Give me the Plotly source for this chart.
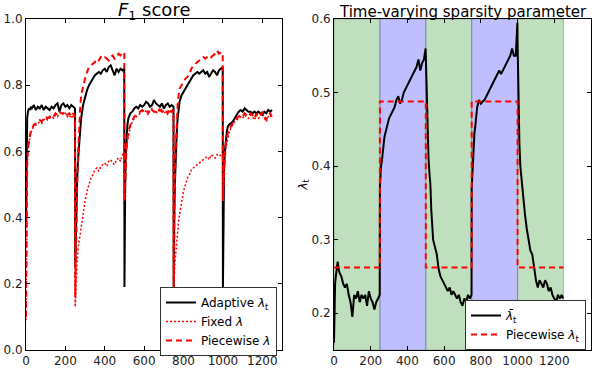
import plotly.graph_objects as go

# ---------------- data ----------------
SEG_STARTS = [0, 250, 500, 750, 1000]
OFFSETS = [0, 3, 6, 10, 15, 20, 25, 30, 40, 50, 60, 70, 80, 90, 100, 110, 120,
           130, 140, 150, 160, 170, 180, 190, 200, 210, 220, 230, 240, 249]
T = [s + o for s in SEG_STARTS for o in OFFSETS]

ADAPTIVE = [
    0.38, 0.62, 0.70, 0.72, 0.73, 0.725, 0.735, 0.73, 0.74, 0.725, 0.735, 0.73, 0.74, 0.725, 0.735,
    0.73, 0.725, 0.735, 0.73, 0.74, 0.745, 0.72, 0.74, 0.745, 0.735, 0.74, 0.73, 0.74, 0.735, 0.73,
    0.25, 0.36, 0.45, 0.52, 0.58, 0.63, 0.67, 0.70, 0.74, 0.765, 0.785, 0.80, 0.81, 0.82, 0.83,
    0.835, 0.84, 0.835, 0.845, 0.85, 0.84, 0.855, 0.86, 0.845, 0.83, 0.85, 0.84, 0.85, 0.845, 0.85,
    0.19, 0.45, 0.58, 0.64, 0.68, 0.70, 0.71, 0.715, 0.72, 0.73, 0.735, 0.73, 0.74, 0.735, 0.74,
    0.75, 0.745, 0.735, 0.74, 0.755, 0.745, 0.74, 0.735, 0.745, 0.73, 0.74, 0.745, 0.735, 0.74, 0.735,
    0.19, 0.40, 0.50, 0.58, 0.65, 0.70, 0.73, 0.75, 0.77, 0.78, 0.79, 0.80, 0.81, 0.82, 0.83,
    0.835, 0.84, 0.835, 0.84, 0.845, 0.835, 0.84, 0.825, 0.835, 0.845, 0.84, 0.83, 0.845, 0.85, 0.855,
    0.19, 0.45, 0.55, 0.60, 0.64, 0.66, 0.675, 0.68, 0.685, 0.69, 0.70, 0.71, 0.72, 0.725, 0.72,
    0.73, 0.725, 0.72, 0.72, 0.715, 0.72, 0.715, 0.72, 0.715, 0.71, 0.72, 0.715, 0.725, 0.72, 0.725,
]

FIXED = [
    0.09, 0.45, 0.55, 0.60, 0.63, 0.645, 0.655, 0.665, 0.675, 0.68, 0.685, 0.69, 0.685, 0.695, 0.70,
    0.695, 0.70, 0.705, 0.70, 0.71, 0.705, 0.715, 0.72, 0.71, 0.715, 0.705, 0.71, 0.70, 0.71, 0.70,
    0.13, 0.18, 0.23, 0.27, 0.31, 0.33, 0.35, 0.38, 0.42, 0.45, 0.48, 0.50, 0.52, 0.53, 0.545,
    0.55, 0.54, 0.555, 0.56, 0.565, 0.555, 0.57, 0.575, 0.565, 0.56, 0.575, 0.58, 0.57, 0.59, 0.60,
    0.45, 0.50, 0.55, 0.60, 0.63, 0.65, 0.665, 0.675, 0.69, 0.70, 0.705, 0.71, 0.715, 0.72, 0.725,
    0.72, 0.71, 0.725, 0.73, 0.72, 0.715, 0.725, 0.72, 0.73, 0.715, 0.72, 0.71, 0.725, 0.715, 0.72,
    0.20, 0.22, 0.26, 0.29, 0.33, 0.36, 0.39, 0.41, 0.45, 0.48, 0.50, 0.52, 0.53, 0.545, 0.55,
    0.555, 0.56, 0.565, 0.57, 0.575, 0.58, 0.585, 0.575, 0.59, 0.585, 0.58, 0.59, 0.585, 0.59, 0.595,
    0.45, 0.50, 0.54, 0.58, 0.61, 0.63, 0.645, 0.655, 0.67, 0.68, 0.69, 0.695, 0.70, 0.705, 0.70,
    0.71, 0.705, 0.70, 0.71, 0.705, 0.695, 0.71, 0.70, 0.705, 0.715, 0.70, 0.69, 0.705, 0.71, 0.70,
]

PIECEWISE = [
    0.10, 0.46, 0.56, 0.61, 0.635, 0.65, 0.66, 0.67, 0.68, 0.685, 0.69, 0.695, 0.69, 0.70, 0.705,
    0.70, 0.705, 0.71, 0.705, 0.715, 0.71, 0.72, 0.715, 0.715, 0.72, 0.71, 0.715, 0.705, 0.715, 0.705,
    0.16, 0.30, 0.42, 0.50, 0.60, 0.68, 0.73, 0.77, 0.80, 0.82, 0.84, 0.855, 0.86, 0.865, 0.87,
    0.88, 0.875, 0.885, 0.88, 0.885, 0.88, 0.875, 0.885, 0.89, 0.88, 0.885, 0.895, 0.89, 0.90, 0.895,
    0.45, 0.52, 0.57, 0.61, 0.64, 0.66, 0.67, 0.68, 0.695, 0.705, 0.71, 0.715, 0.72, 0.725, 0.72,
    0.725, 0.715, 0.73, 0.725, 0.72, 0.72, 0.73, 0.725, 0.72, 0.72, 0.725, 0.715, 0.73, 0.72, 0.725,
    0.19, 0.40, 0.52, 0.60, 0.68, 0.74, 0.77, 0.79, 0.80, 0.81, 0.82, 0.825, 0.835, 0.85, 0.86,
    0.865, 0.87, 0.875, 0.88, 0.885, 0.88, 0.885, 0.89, 0.885, 0.89, 0.895, 0.905, 0.895, 0.90, 0.895,
    0.45, 0.52, 0.56, 0.60, 0.625, 0.645, 0.655, 0.665, 0.675, 0.685, 0.695, 0.70, 0.705, 0.71, 0.705,
    0.715, 0.71, 0.705, 0.715, 0.71, 0.70, 0.715, 0.705, 0.71, 0.72, 0.705, 0.695, 0.71, 0.715, 0.705,
]

LAMBDA_BAR = [
    0.16, 0.22, 0.24, 0.25, 0.26, 0.27, 0.26, 0.255, 0.25, 0.24, 0.235, 0.24, 0.225, 0.215, 0.195,
    0.225, 0.22, 0.23, 0.215, 0.225, 0.22, 0.225, 0.21, 0.23, 0.22, 0.215, 0.205, 0.215, 0.22, 0.225,
    0.37, 0.39, 0.40, 0.405, 0.42, 0.43, 0.44, 0.445, 0.455, 0.465, 0.47, 0.475, 0.48, 0.49, 0.495,
    0.485, 0.49, 0.50, 0.505, 0.51, 0.515, 0.52, 0.525, 0.53, 0.535, 0.545, 0.53, 0.54, 0.545, 0.56,
    0.55, 0.51, 0.47, 0.44, 0.41, 0.39, 0.375, 0.34, 0.30, 0.29, 0.28, 0.26, 0.25, 0.245, 0.24,
    0.235, 0.23, 0.235, 0.225, 0.23, 0.225, 0.22, 0.225, 0.215, 0.21, 0.22, 0.215, 0.225, 0.22, 0.225,
    0.37, 0.39, 0.41, 0.43, 0.445, 0.455, 0.47, 0.48, 0.49, 0.485, 0.488, 0.49, 0.495, 0.50, 0.505,
    0.51, 0.515, 0.52, 0.525, 0.53, 0.525, 0.53, 0.535, 0.54, 0.545, 0.55, 0.56, 0.55, 0.55, 0.595,
    0.57, 0.52, 0.47, 0.43, 0.40, 0.385, 0.375, 0.36, 0.335, 0.315, 0.30, 0.285, 0.28, 0.26, 0.245,
    0.235, 0.245, 0.24, 0.235, 0.245, 0.24, 0.23, 0.235, 0.225, 0.22, 0.215, 0.225, 0.22, 0.225, 0.22,
]

PW_X = [0, 250, 250, 500, 500, 750, 750, 1000, 1000, 1250]
PW_LAMBDA = [0.262, 0.262, 0.488, 0.488, 0.262, 0.262, 0.488, 0.488, 0.262, 0.262]

BAND_EDGES = [0, 250, 500, 750, 1000, 1250]
BAND_KIND = ["g", "b", "g", "b", "g"]

LEFT_XTICKS = [0, 200, 400, 600, 800, 1000, 1200]
LEFT_YTICKS = [0.0, 0.2, 0.4, 0.6, 0.8, 1.0]
RIGHT_XTICKS = [0, 200, 400, 600, 800, 1000, 1200, 1400]
RIGHT_YTICKS = [0.2, 0.3, 0.4, 0.5, 0.6]

# ---------------- layout geometry ----------------
W, H = 599, 368
FONT = "DejaVu Sans"
L_X = [26 / W, 282 / W]
R_X = [334 / W, 591 / W]
Y_DOM = [(H - 350) / H, (H - 19) / H]

fig = go.Figure()

fig.add_trace(go.Scatter(x=T, y=ADAPTIVE, mode="lines", name="Adaptive <i>λ</i><sub>t</sub>",
                         line=dict(color="black", width=2), xaxis="x", yaxis="y", legend="legend"))
fig.add_trace(go.Scatter(x=T, y=FIXED, mode="lines", name="Fixed <i>λ</i>",
                         line=dict(color="red", width=1.5, dash="2px,2px"), xaxis="x", yaxis="y",
                         legend="legend"))
fig.add_trace(go.Scatter(x=T, y=PIECEWISE, mode="lines", name="Piecewise <i>λ</i>",
                         line=dict(color="red", width=2, dash="6px,4px"), xaxis="x", yaxis="y",
                         legend="legend"))

fig.add_trace(go.Scatter(x=T, y=LAMBDA_BAR, mode="lines", name="<i>λ̄</i><sub>t</sub>",
                         line=dict(color="black", width=2), xaxis="x2", yaxis="y2", legend="legend2"))
fig.add_trace(go.Scatter(x=PW_X, y=PW_LAMBDA, mode="lines", name="Piecewise <i>λ</i><sub>t</sub>",
                         line=dict(color="red", width=2, dash="6px,4px"), xaxis="x2", yaxis="y2",
                         legend="legend2"))

colors = {"g": "rgba(0,128,0,0.25)", "b": "rgba(0,0,255,0.25)"}
for i, k in enumerate(BAND_KIND):
    fig.add_shape(type="rect", xref="x2", yref="y2 domain", x0=BAND_EDGES[i], x1=BAND_EDGES[i + 1],
                  y0=0, y1=1, fillcolor=colors[k], line=dict(color="rgba(80,80,80,0.35)", width=1),
                  layer="below")

axis_common = dict(showgrid=False, zeroline=False, showline=True, linecolor="black", linewidth=1,
                   mirror="ticks", ticks="inside", ticklen=4, tickcolor="black", automargin=False,
                   tickfont=dict(family=FONT, size=12, color="#222"))

fig.update_layout(
    width=W, height=H, margin=dict(l=0, r=0, t=0, b=0),
    paper_bgcolor="white", plot_bgcolor="white",
    xaxis=dict(domain=L_X, range=[0, 1300], tickvals=LEFT_XTICKS, anchor="y", **axis_common),
    yaxis=dict(domain=Y_DOM, range=[0, 1.0], tickvals=LEFT_YTICKS, tickformat=".1f", anchor="x",
               **axis_common),
    xaxis2=dict(domain=R_X, range=[0, 1400], tickvals=RIGHT_XTICKS, anchor="y2", **axis_common),
    yaxis2=dict(domain=Y_DOM, range=[0.15, 0.6], tickvals=RIGHT_YTICKS, tickformat=".1f", anchor="x2",
                **axis_common),
    legend=dict(x=277 / W, y=1 - 287 / H, xanchor="right", yanchor="top", bgcolor="white",
                bordercolor="#333", borderwidth=1, font=dict(family=FONT, size=12, color="black"),
                itemwidth=30, tracegroupgap=0),
    legend2=dict(x=586 / W, y=1 - 300 / H, xanchor="right", yanchor="top", bgcolor="white",
                 bordercolor="#333", borderwidth=1, font=dict(family=FONT, size=12, color="black"),
                 itemwidth=30, tracegroupgap=0),
    showlegend=True,
)

fig.add_annotation(text="<i>F</i><sub>1</sub> score", xref="paper", yref="paper",
                   x=(L_X[0] + L_X[1]) / 2, y=Y_DOM[1], xanchor="center", yanchor="bottom",
                   showarrow=False, yshift=-5, borderpad=0,
                   font=dict(family=FONT, size=18, color="black"))
fig.add_annotation(text="Time-varying sparsity parameter", xref="paper", yref="paper",
                   x=(R_X[0] + R_X[1]) / 2, y=Y_DOM[1], xanchor="center", yanchor="bottom",
                   showarrow=False, yshift=-3, borderpad=0,
                   font=dict(family=FONT, size=15, color="black"))
fig.add_annotation(text="<i>λ</i><sub>t</sub>", xref="paper", yref="paper",
                   x=304 / W, y=(Y_DOM[0] + Y_DOM[1]) / 2, xanchor="center", yanchor="middle",
                   textangle=-90, showarrow=False, font=dict(family=FONT, size=12, color="black"))

fig.write_html("out.html")
